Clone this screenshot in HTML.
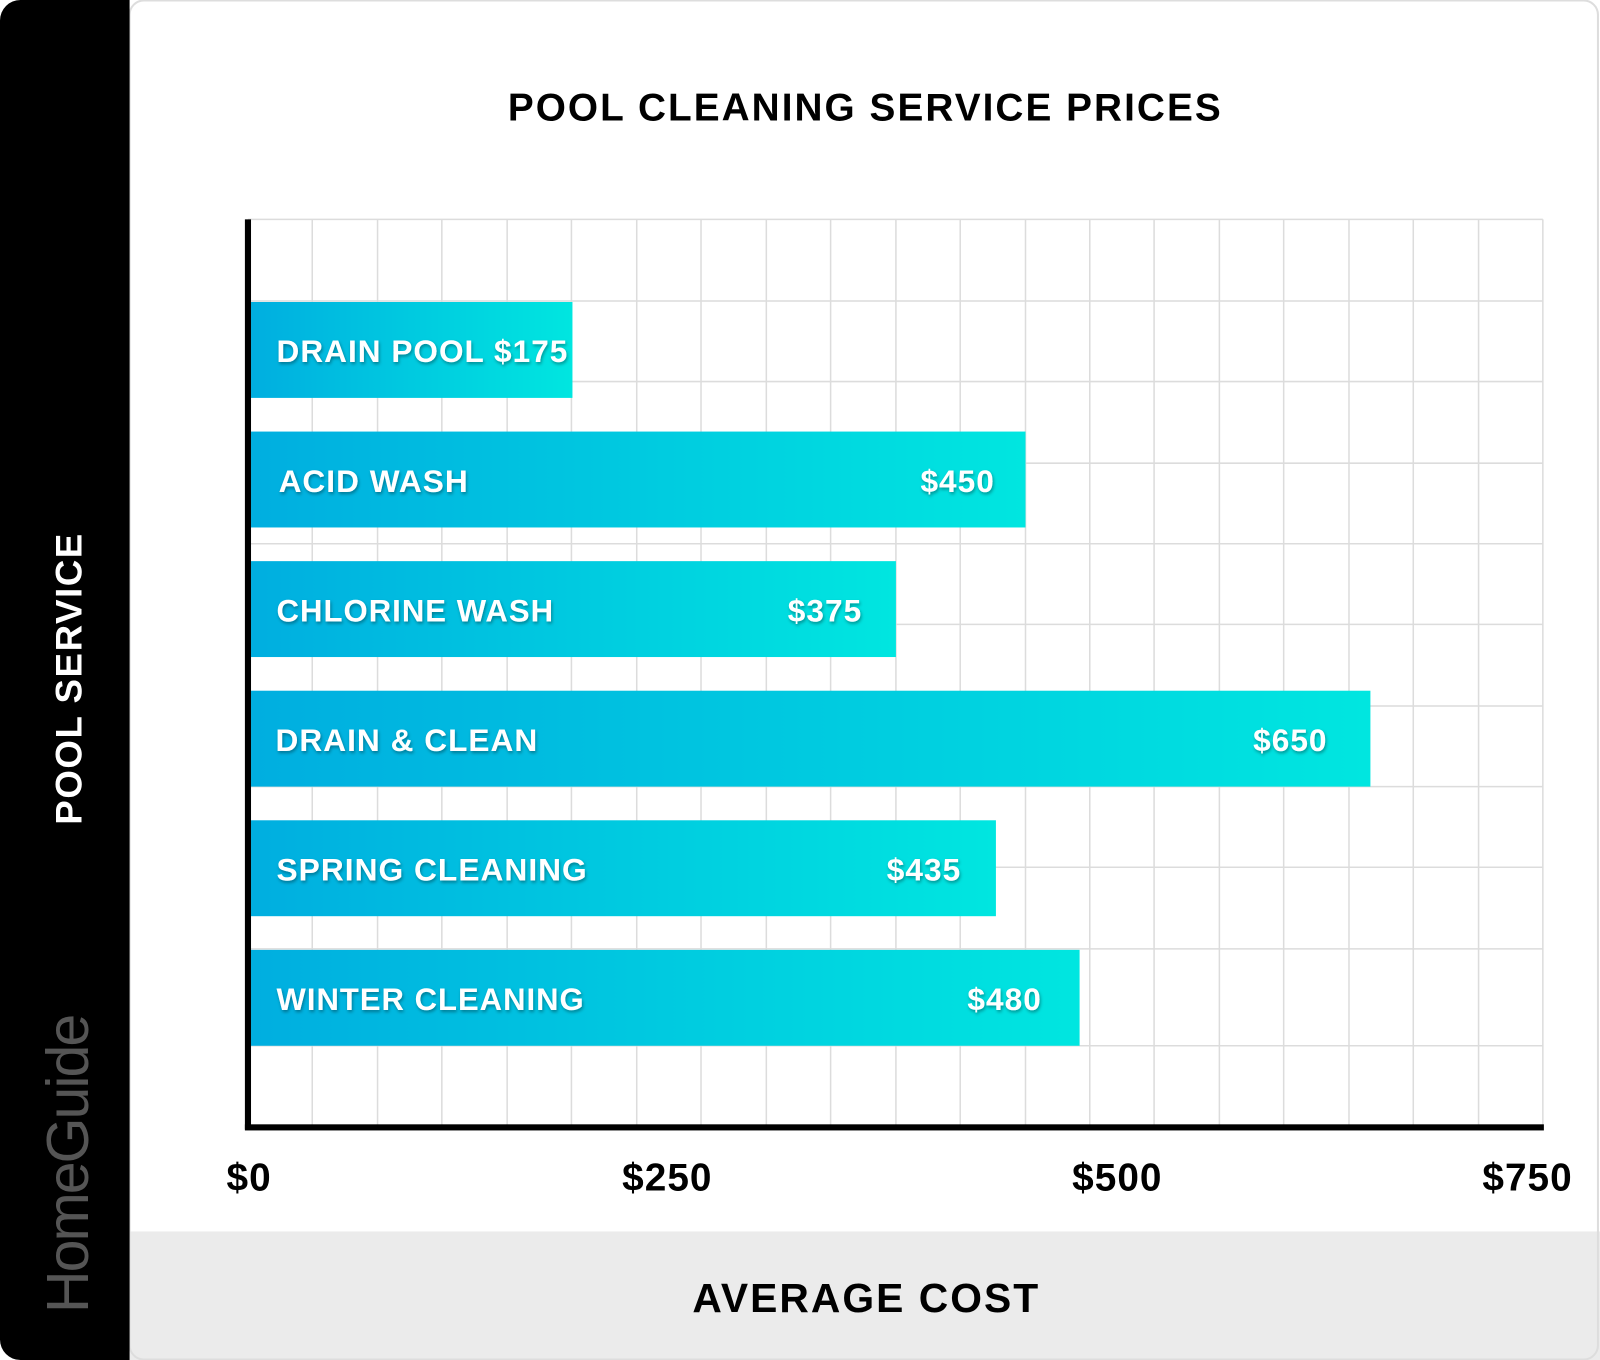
<!DOCTYPE html>
<html><head><meta charset="utf-8"><style>
html,body{margin:0;padding:0;background:#fff}
svg{display:block}
text{font-family:"Liberation Sans",sans-serif;font-weight:bold}
</style></head><body>
<svg width="1600" height="1360" viewBox="0 0 1568 1333" preserveAspectRatio="none" xmlns="http://www.w3.org/2000/svg">
<defs>
<linearGradient id="g" x1="0" x2="1" y1="0" y2="0"><stop offset="0" stop-color="#00aee0"/><stop offset="1" stop-color="#00e6e0"/></linearGradient>
<filter id="s" x="-5%" y="-20%" width="110%" height="140%"><feDropShadow dx="1" dy="2" stdDeviation="1.5" flood-color="#000" flood-opacity="0.35"/></filter>
</defs>
<rect x="0" y="0" width="1568" height="1333" fill="#fff"/>
<rect x="127" y="1207" width="1441" height="126" fill="#ebebeb"/>
<rect x="127" y="0.5" width="1439" height="1332" rx="14" fill="none" stroke="#ddd" stroke-width="2"/>
<path d="M20 0 H127 V1333 H20 A20 20 0 0 1 0 1313 V20 A20 20 0 0 1 20 0Z" fill="#000"/>
<text transform="translate(86,1287) rotate(-90)" font-size="58" fill="#555" style="font-weight:normal" letter-spacing="-2">HomeGuide</text>
<text transform="translate(80,665) rotate(-90)" font-size="36" fill="#fff" text-anchor="middle" letter-spacing="1.5">POOL SERVICE</text>
<text x="848" y="118" font-size="38" text-anchor="middle" letter-spacing="2">POOL CLEANING SERVICE PRICES</text>
<g stroke="#dcdcdc" stroke-width="1.5">
<path d="M306 215V1103M370 215V1103M433 215V1103M497 215V1103M560 215V1103M624 215V1103M687 215V1103M751 215V1103M814 215V1103M878 215V1103M941 215V1103M1005 215V1103M1068 215V1103M1131 215V1103M1195 215V1103M1258 215V1103M1322 215V1103M1385 215V1103M1449 215V1103M1512 215V1103"/>
<path d="M243 215H1512M243 295H1512M243 374H1512M243 454H1512M243 533H1512M243 612H1512M243 692H1512M243 771H1512M243 850H1512M243 930H1512M243 1025H1512"/>
</g>
<rect x="246" y="296" width="315" height="94" fill="url(#g)"/>
<rect x="246" y="423" width="759" height="94" fill="url(#g)"/>
<rect x="246" y="550" width="632" height="94" fill="url(#g)"/>
<rect x="246" y="677" width="1097" height="94" fill="url(#g)"/>
<rect x="246" y="804" width="730" height="94" fill="url(#g)"/>
<rect x="246" y="931" width="812" height="94" fill="url(#g)"/>
<rect x="240" y="215" width="6" height="892" fill="#000"/>
<rect x="240" y="1102" width="1273" height="6" fill="#000"/>
<g fill="#fff" font-size="31" filter="url(#s)" letter-spacing="1">
<text x="271" y="355" textLength="286" lengthAdjust="spacingAndGlyphs">DRAIN POOL $175</text>
<text x="273" y="482">ACID WASH</text><text x="975" y="482" text-anchor="end">$450</text>
<text x="271" y="609" textLength="272" lengthAdjust="spacingAndGlyphs">CHLORINE WASH</text><text x="845" y="609" text-anchor="end">$375</text>
<text x="270" y="736">DRAIN &amp; CLEAN</text><text x="1301" y="736" text-anchor="end">$650</text>
<text x="271" y="863" textLength="305" lengthAdjust="spacingAndGlyphs">SPRING CLEANING</text><text x="942" y="863" text-anchor="end">$435</text>
<text x="271" y="990" textLength="302" lengthAdjust="spacingAndGlyphs">WINTER CLEANING</text><text x="1021" y="990" text-anchor="end">$480</text>
</g>
<g font-size="38" letter-spacing="1">
<text x="222" y="1167">$0</text>
<text x="654" y="1167" text-anchor="middle">$250</text>
<text x="1095" y="1167" text-anchor="middle">$500</text>
<text x="1497" y="1167" text-anchor="middle">$750</text>
</g>
<text x="849" y="1286" font-size="40" text-anchor="middle" letter-spacing="2">AVERAGE COST</text>
</svg>
</body></html>
